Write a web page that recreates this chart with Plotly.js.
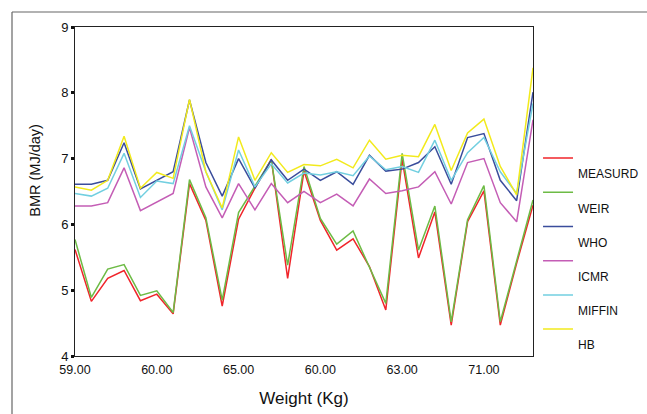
<!DOCTYPE html>
<html>
<head>
<meta charset="utf-8">
<script src="https://cdn.plot.ly/plotly-3.0.1.min.js"></script>
<style>html,body{margin:0;padding:0;background:#fff}#chart{width:647px;height:414px}</style>
</head>
<body>
<div id="chart"></div>
<script>
// Tick labels shown on the x axis (every 5th subject)
var tickLabels = ['59.00', '60.00', '65.00', '60.00', '63.00', '71.00'];

// BMR (MJ/day) per subject
var measurd = [5.62, 4.83, 5.18, 5.30, 4.84, 4.94, 4.64, 6.62, 6.06, 4.76, 6.08, 6.55, 6.99, 5.18, 6.81,
               6.06, 5.61, 5.78, 5.36, 4.70, 6.99, 5.49, 6.19, 4.47, 6.04, 6.51, 4.47, 5.41, 6.29];
var weir    = [5.77, 4.89, 5.32, 5.39, 4.92, 4.99, 4.66, 6.68, 6.10, 4.85, 6.18, 6.57, 6.98, 5.38, 6.88,
               6.09, 5.70, 5.90, 5.36, 4.80, 7.08, 5.61, 6.28, 4.52, 6.07, 6.59, 4.52, 5.46, 6.37];
var who     = [6.61, 6.61, 6.67, 7.24, 6.54, 6.67, 6.80, 7.89, 6.94, 6.43, 7.00, 6.55, 6.98, 6.67, 6.84,
               6.67, 6.80, 6.61, 7.05, 6.81, 6.84, 6.94, 7.18, 6.61, 7.32, 7.38, 6.67, 6.36, 8.01];
var icmr    = [6.28, 6.28, 6.33, 6.86, 6.21, 6.34, 6.47, 7.47, 6.57, 6.10, 6.62, 6.22, 6.62, 6.33, 6.50,
               6.33, 6.46, 6.28, 6.69, 6.47, 6.51, 6.57, 6.80, 6.31, 6.94, 7.00, 6.33, 6.04, 7.59];
var miffin  = [6.47, 6.43, 6.55, 7.08, 6.41, 6.66, 6.62, 7.50, 6.80, 6.22, 7.13, 6.57, 6.92, 6.63, 6.78,
               6.75, 6.80, 6.74, 7.04, 6.83, 6.88, 6.79, 7.28, 6.67, 7.09, 7.32, 6.80, 6.47, 7.84];
var hb      = [6.57, 6.52, 6.67, 7.34, 6.55, 6.79, 6.70, 7.90, 6.80, 6.25, 7.33, 6.67, 7.09, 6.79, 6.91,
               6.89, 6.99, 6.86, 7.28, 6.99, 7.05, 7.03, 7.52, 6.82, 7.39, 7.60, 6.88, 6.45, 8.38];

var seriesNames = ['MEASURD', 'WEIR', 'WHO', 'ICMR', 'MIFFIN', 'HB'];
var seriesData = [measurd, weir, who, icmr, miffin, hb];
var colors = ['#f0242a', '#6dbb45', '#3a4d9c', '#c45db5', '#72cfe0', '#f2ea1c'];

var idx = measurd.map(function (_, i) { return i; });
var tickStep = 5;
var tickvals = tickLabels.map(function (_, i) { return i * tickStep; });

var traces = seriesData.map(function (d, i) {
  return {
    x: idx, y: d, type: 'scatter', mode: 'lines', name: '<br>' + seriesNames[i],
    line: {color: colors[i], width: 1.5},
    hoverinfo: 'skip'
  };
});

var font = 'Liberation Sans, Arial, sans-serif';
var layout = {
  width: 647, height: 414,
  margin: {l: 75, r: 114, t: 27, b: 57.5, autoexpand: false},
  paper_bgcolor: '#ffffff', plot_bgcolor: '#ffffff',
  font: {family: font, color: '#111'},
  showlegend: true,
  legend: {
    x: 1.011, y: 0.645, xanchor: 'left', yanchor: 'top',
    font: {family: font, size: 12, color: '#111'},
    valign: 'top', itemwidth: 30, bgcolor: 'rgba(0,0,0,0)', borderwidth: 0
  },
  xaxis: {
    range: [0, idx.length - 1],
    tickmode: 'array', tickvals: tickvals, ticktext: tickLabels,
    showgrid: false, zeroline: false,
    showline: true, linecolor: '#222', linewidth: 1, mirror: true,
    ticks: '', ticklabelstandoff: 2, tickfont: {family: font, size: 12.5, color: '#111'},
    title: {text: 'Weight (Kg)', font: {family: font, size: 17, color: '#111'}, standoff: 16}
  },
  yaxis: {
    range: [4, 9], dtick: 1, tick0: 4,
    showgrid: false, zeroline: false,
    showline: true, linecolor: '#222', linewidth: 1, mirror: true,
    ticks: 'outside', ticklen: 3, tickwidth: 3, tickcolor: '#111',
    tickfont: {family: font, size: 13, color: '#111'}
  },
  annotations: [{
    text: 'BMR (MJ/day)', xref: 'paper', yref: 'paper',
    x: (35 - 75) / 458, y: 1 - (171 - 27) / 329.5, xanchor: 'center', yanchor: 'middle',
    textangle: -90, showarrow: false,
    font: {family: font, size: 14.5, color: '#111'}
  }],
  shapes: [
    {type: 'line', xref: 'paper', yref: 'paper', x0: (12 - 75) / 458, x1: (12 - 75) / 458,
     y0: 1 + (27 - 12) / 329.5, y1: -0.3, line: {color: '#666', width: 1.2}},
    {type: 'line', xref: 'paper', yref: 'paper', x0: (12 - 75) / 458, x1: 1.3,
     y0: 1 + (27 - 12) / 329.5, y1: 1 + (27 - 12) / 329.5, line: {color: '#666', width: 1.2}}
  ]
};

Plotly.newPlot('chart', traces, layout, {staticPlot: true, displayModeBar: false});
</script>
</body>
</html>
